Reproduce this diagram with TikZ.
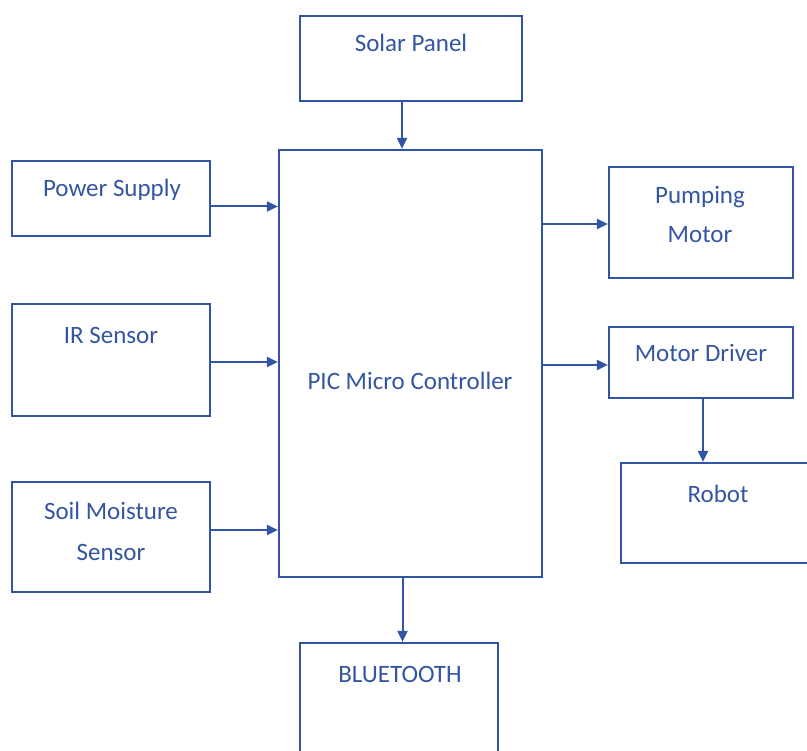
\documentclass[tikz,border=0pt]{standalone}
\usepackage{fontspec}
\setmainfont{Carlito}
\usetikzlibrary{arrows.meta,fit}
\definecolor{linec}{RGB}{50,84,165}
\definecolor{textc}{RGB}{52,86,160}
\begin{document}
\begin{tikzpicture}[x=1pt,y=-1pt,
  box/.style={draw=linec, line width=2.2pt, rectangle, inner sep=0pt},
  txt/.style={text=textc, font=\fontsize{25}{30}\selectfont, inner sep=0pt, align=center},
  arr/.style={draw=linec, line width=2pt, -{Triangle[length=11pt,width=10pt]}}]
\useasboundingbox (0,0) rectangle (807,751);
\clip (0,0) rectangle (807,751);
% boxes
\node[box, fit={(300,16) (522,101)}] (solar) {};
\node[box, fit={(279,150) (542,577)}] (pic) {};
\node[box, fit={(12,161) (210,236)}] (ps) {};
\node[box, fit={(12,304) (210,416)}] (ir) {};
\node[box, fit={(12,482) (210,592)}] (soil) {};
\node[box, fit={(609,167) (793,278)}] (pump) {};
\node[box, fit={(609,327) (793,398)}] (drv) {};
\node[box, fit={(621,463) (830,563)}] (robot) {};
\node[box, fit={(300,643) (498,770)}] (bt) {};
% texts
\node[txt] (solart) at (411,43) {Solar Panel};
\node[txt] (pict) at (410,381) {PIC Micro Controller};
\node[txt] (pst) at (112,190) {Power Supply};
\node[txt] (irt) at (111,335) {IR Sensor};
\node[txt] (soilt1) at (111,511) {Soil Moisture};
\node[txt] (soilt2) at (111,552) {Sensor};
\node[txt] (pumpt1) at (700,197) {Pumping};
\node[txt] (pumpt2) at (700,235) {Motor};
\node[txt] (drvt) at (701,353) {Motor Driver};
\node[txt] (robott) at (718,494) {Robot};
\node[txt] (btt) at (400,674) {BLUETOOTH};
% connectors
\draw[arr] ([xshift=-9pt]solar.south) -- ([xshift=-9pt]solar.south |- pic.north);
\draw[arr] ([yshift=-8pt]ps.east) -- ([yshift=-8pt]ps.east -| pic.west);
\draw[arr] ([yshift=-2pt]ir.east) -- ([yshift=-2pt]ir.east -| pic.west);
\draw[arr] ([yshift=7pt]soil.east) -- ([yshift=7pt]soil.east -| pic.west);
\draw[arr] ([yshift=-1.5pt]pic.east |- pump.west) -- ([yshift=-1.5pt]pump.west);
\draw[arr] ([yshift=-2.5pt]pic.east |- drv.west) -- ([yshift=-2.5pt]drv.west);
\draw[arr] ([xshift=2pt]drv.south) -- ([xshift=2pt]drv.south |- robot.north);
\draw[arr] ([xshift=-8pt]pic.south) -- ([xshift=-8pt]pic.south |- bt.north);
\end{tikzpicture}
\end{document}
